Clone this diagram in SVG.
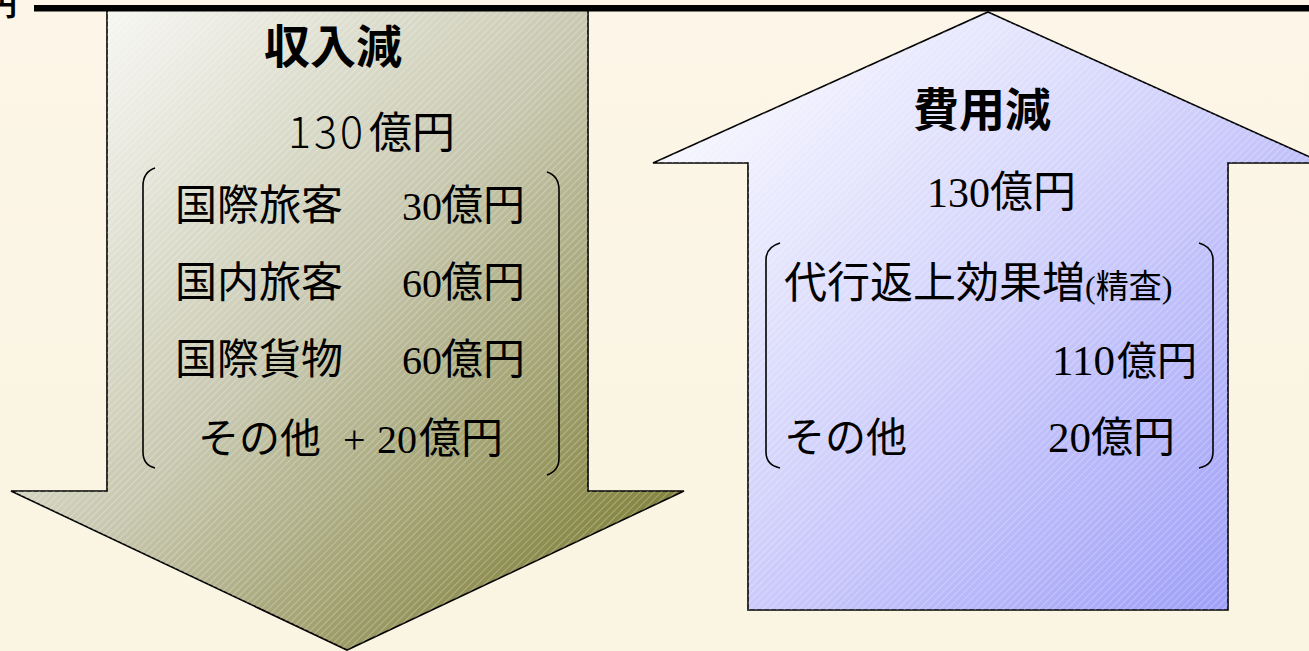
<svg xmlns="http://www.w3.org/2000/svg" width="1309" height="651" viewBox="0 0 1309 651">
  <defs>
    <linearGradient id="bg" x1="0" y1="0" x2="0" y2="1">
      <stop offset="0" stop-color="#FDF6E8"/>
      <stop offset="1" stop-color="#FAF4E2"/>
    </linearGradient>
    <linearGradient id="olive" gradientUnits="userSpaceOnUse" x1="107" y1="10" x2="684" y2="560">
      <stop offset="0" stop-color="#F7F7F3"/>
      <stop offset="0.45" stop-color="#C8C8B0"/>
      <stop offset="1" stop-color="#7A7A30"/>
    </linearGradient>
    <linearGradient id="blue" gradientUnits="userSpaceOnUse" x1="700" y1="60" x2="1260" y2="610">
      <stop offset="0" stop-color="#FAFAFF"/>
      <stop offset="0.4" stop-color="#D8D8FC"/>
      <stop offset="1" stop-color="#9C9CF8"/>
    </linearGradient>
    <pattern id="hatch" patternUnits="userSpaceOnUse" width="5" height="5" patternTransform="rotate(45)">
      <line x1="0.5" y1="0" x2="0.5" y2="5" stroke="#FFFFFF" stroke-opacity="0.35" stroke-width="0.8"/>
    </pattern>
  </defs>
  <style>
    .shape { stroke: #000; stroke-width: 1.6; stroke-linejoin: miter; }
    .hatch { fill: url(#hatch); stroke: none; }
    .jp { font-family: "Noto Sans CJK JP", "Noto Sans", sans-serif; fill: #000; }
    .num { font-family: "Liberation Serif", "Noto Sans CJK JP", serif; fill: #000; }
    .title { font-family: "Noto Sans CJK JP", sans-serif; font-weight: bold; font-size: 46px; fill: #000; }
    .brk { fill: none; stroke: #000; stroke-width: 1.6; }
  </style>

  <rect x="0" y="0" width="1309" height="651" fill="url(#bg)"/>

  <g id="down-arrow">
    <polygon class="shape" fill="url(#olive)" points="107,10 588,10 588,491 684,491 347,650 11,491 107,491"/>
    <polygon class="hatch" points="107,10 588,10 588,491 684,491 347,650 11,491 107,491"/>
    <text class="title" x="333" y="63" text-anchor="middle">収入減</text>
    <text class="jp" y="148" font-size="43"><tspan x="288" letter-spacing="3" font-weight="300">130</tspan><tspan x="369">億円</tspan></text>
    <path class="brk" d="M155,168 Q143,172 143,186 L143,452 Q143,465 155,468"/>
    <path class="brk" d="M547,172 Q559,176 559,190 L559,458 Q559,471 547,475"/>
    <text class="jp" x="175" y="220" font-size="42">国際旅客</text>
    <text y="220"><tspan class="num" x="402" font-size="40">30</tspan><tspan class="jp" x="441" font-size="42">億円</tspan></text>
    <text class="jp" x="175" y="297" font-size="42">国内旅客</text>
    <text y="297"><tspan class="num" x="402" font-size="40">60</tspan><tspan class="jp" x="441" font-size="42">億円</tspan></text>
    <text class="jp" x="175" y="374" font-size="42">国際貨物</text>
    <text y="374"><tspan class="num" x="402" font-size="40">60</tspan><tspan class="jp" x="441" font-size="42">億円</tspan></text>
    <text y="453"><tspan class="jp" x="198" font-size="41">その他</tspan><tspan class="num" x="343" font-size="40">+</tspan><tspan class="num" x="377" font-size="40">20</tspan><tspan class="jp" x="419" font-size="42">億円</tspan></text>
  </g>

  <g id="up-arrow">
    <polygon class="shape" fill="url(#blue)" points="988,12 1323,163 1228,163 1228,610 748,610 748,163 653,163"/>
    <polygon class="hatch" points="988,12 1323,163 1228,163 1228,610 748,610 748,163 653,163"/>
    <text class="title" x="982" y="126" text-anchor="middle">費用減</text>
    <text y="207"><tspan class="num" x="927" font-size="42">130</tspan><tspan class="jp" x="990" font-size="43">億円</tspan></text>
    <path class="brk" d="M780,243 Q766,247 766,260 L766,452 Q766,465 780,468"/>
    <path class="brk" d="M1199,243 Q1213,247 1213,260 L1213,452 Q1213,465 1199,468"/>
    <text y="298"><tspan class="jp" x="784" font-size="43">代行返上効果増</tspan><tspan class="num" font-size="32">(</tspan><tspan class="jp" font-size="33">精査</tspan><tspan class="num" font-size="32">)</tspan></text>
    <text y="375"><tspan class="num" x="1052" font-size="43">110</tspan><tspan class="jp" x="1117" font-size="40">億円</tspan></text>
    <text y="452"><tspan class="jp" x="784" font-size="41">その他</tspan><tspan class="num" x="1048" font-size="43">20</tspan><tspan class="jp" x="1091" font-size="42">億円</tspan></text>
  </g>

  <g id="top-rule">
    <rect x="34" y="5" width="1275" height="6.5" fill="#000"/>
    <text class="jp" x="-13" y="15" font-size="30" font-weight="bold">円</text>
  </g>

  <g id="connectors"/>
</svg>
